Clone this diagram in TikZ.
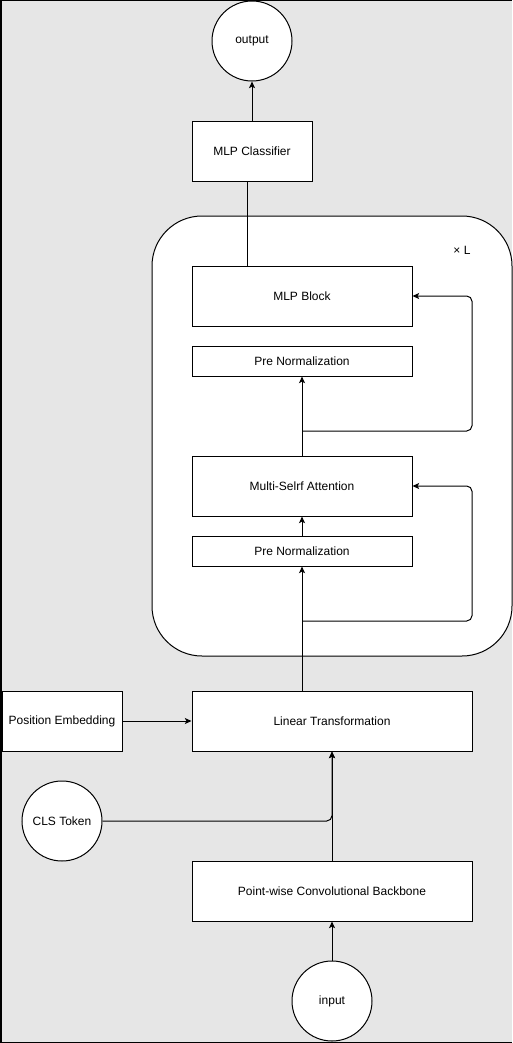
\documentclass[tikz,border=0pt]{standalone}
\usepackage{fontspec}
\setmainfont{Liberation Sans}
\usepackage{tikz}
\usetikzlibrary{arrows.meta}

\definecolor{bggray}{HTML}{E6E6E6}
\tikzset{
  blk/.style={draw, fill=white, minimum width=165pt, minimum height=45pt, inner sep=0pt},
  thin blk/.style={blk, minimum height=22.5pt},
  wide blk/.style={blk, minimum width=210pt},
  small blk/.style={blk, minimum width=90pt},
  io/.style={draw, fill=white, circle, minimum size=60pt, inner sep=0pt},
}

\begin{document}
\begin{tikzpicture}[x=0.75pt, y=-0.75pt, >={Stealth[length=5pt, width=4.5pt, inset=1.2pt]}, font=\fontsize{9}{11}\selectfont, line width=0.75pt]
\useasboundingbox (0, 0) rectangle (512, 1043);
\fill [bggray] (0, 0) rectangle (512, 1043);
\draw [line width=1.5pt] (0.5, 0) -- (0.5, 1043);
\draw [line width=0.9pt] (0, 0.5) -- (512, 0.5);
\draw [line width=1.5pt] (0, 1042.5) -- (512, 1042.5);

% repeated encoder block
\node [draw, fill=white, rounded corners=37.5pt, minimum width=270pt, minimum height=330pt] (loop) at (332, 436) {};
\node (times) at (462, 250) {× L};

\node [io] (out) at (252, 41) {output};
\node [small blk] (mlpcls) at (252, 151) {MLP Classifier};
\node [blk] (mlpblk) at (302, 296) {MLP Block};
\node [thin blk] (prenorm1) at (302, 361) {Pre Normalization};
\node [blk] (attn) at (302, 486) {Multi-Selrf Attention};
\node [thin blk] (prenorm2) at (302, 551) {Pre Normalization};
\node [wide blk] (lintr) at (332, 721) {Linear Transformation};
\node [small blk] (posemb) at (62, 721) {Position Embedding};
\node [io] (cls) at (62, 821) {CLS Token};
\node [wide blk] (backbone) at (332, 891) {Point-wise Convolutional Backbone};
\node [io] (inp) at (332, 1001) {input};

\coordinate (skip1) at (302, 431);
\coordinate (skip1r) at (472, 431);
\coordinate (skip2) at (302, 621);
\coordinate (skip2r) at (472, 621);

\draw [->] (inp) -- (backbone);
\draw [->] (backbone) -- (lintr);
\draw [->, rounded corners=4pt] (cls) -| (lintr.south);
\draw [->] (posemb) -- (lintr);
\draw [->] (prenorm2.south |- lintr.north) -- (prenorm2.south);
\draw [->, rounded corners=4pt] (skip2) -- (skip2r) |- (attn.east);
\draw [->] (prenorm2) -- (attn);
\draw [->] (attn) -- (prenorm1);
\draw [->, rounded corners=4pt] (skip1) -- (skip1r) |- (mlpblk.east);
\draw [-] ([xshift=-3.75pt]mlpcls.south) -- ([xshift=-3.75pt]mlpcls.south |- mlpblk.north);
\draw [->] (mlpcls) -- (out);
\end{tikzpicture}
\end{document}
